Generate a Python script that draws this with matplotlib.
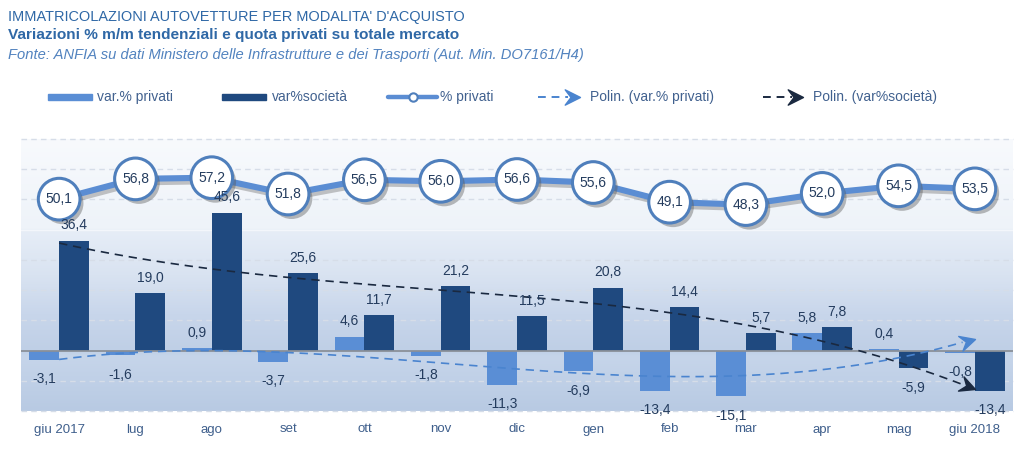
import numpy as np
import matplotlib
matplotlib.use('Agg')
import matplotlib.pyplot as plt
import matplotlib.patheffects as pe
from matplotlib.path import Path
from matplotlib.markers import MarkerStyle
from matplotlib.transforms import Affine2D
from matplotlib.colors import to_rgb
from matplotlib.patches import Rectangle

plt.rcParams['font.family'] = ['Liberation Sans', 'DejaVu Sans']

# dati
mesi = ['giu 2017', 'lug', 'ago', 'set', 'ott', 'nov', 'dic', 'gen', 'feb',
        'mar', 'apr', 'mag', 'giu 2018']
var_privati = [-3.1, -1.6, 0.9, -3.7, 4.6, -1.8, -11.3, -6.9, -13.4, -15.1, 5.8, 0.4, -0.8]
var_societa = [36.4, 19.0, 45.6, 25.6, 11.7, 21.2, 11.5, 20.8, 14.4, 5.7, 7.8, -5.9, -13.4]
quota_privati = [50.1, 56.8, 57.2, 51.8, 56.5, 56.0, 56.6, 55.6, 49.1, 48.3, 52.0, 54.5, 53.5]

C_LIGHT = '#5a8ed5'
C_DARK = '#1f497f'
C_LINE = '#5b8dd3'
C_EDGE = '#4f7fbc'
C_TXT = '#243c5e'
C_TREND_L = '#4a84cf'
C_TREND_D = '#1a2940'

fmt = lambda v: f"{v:.1f}".replace('.', ',')

fig = plt.figure(figsize=(10.23, 4.58), dpi=100)
ax = fig.add_axes([21/1023, 47/458, 992/1023, 272/458])
ax.set_xlim(-0.5, 12.5)
ax.set_ylim(-20, 70)
ax.set_autoscale_on(False)

# sfondo sfumato
stops = [(-20, '#b8cae3'), (-2, '#c6d5ea'), (0, '#bfcfe6'), (12, '#c8d6eb'),
         (25, '#d9e3f1'), (39.5, '#e6edf7'), (40.5, '#eef3f9'), (70, '#f8fafd')]
yy = np.linspace(-20, 70, 500)
sv = [s[0] for s in stops]
cols = np.array([to_rgb(s[1]) for s in stops])
img = np.stack([np.interp(yy, sv, cols[:, k]) for k in range(3)], axis=-1)[:, None, :]
ax.imshow(img, extent=(-0.5, 12.5, -20, 70), origin='lower', aspect='auto', zorder=0)

for g in [-20, -10, 10, 20, 30, 50, 60, 70]:
    ax.axhline(g, color='#d6dde8', lw=1, ls=(0, (4, 3)), zorder=1, clip_on=False)
ax.axhline(40, color='#f3f6fb', lw=1, zorder=1)

x = np.arange(len(mesi))
w = 0.39
ax.bar(x - w/2, var_privati, w, color=C_LIGHT, zorder=3)
ax.bar(x + w/2, var_societa, w, color=C_DARK, zorder=3)
ax.axhline(0, color='#8a9099', lw=1.3, zorder=4)

# etichette barre
for xs, vals in [(x - w/2, var_privati), (x + w/2, var_societa)]:
    for xi, v in zip(xs, vals):
        ax.annotate(fmt(v), (xi, v), xytext=(0, 11 if v >= 0 else -14),
                    textcoords='offset points', ha='center', va='center',
                    fontsize=10, color=C_TXT, zorder=9)

# linee di tendenza polinomiali con freccia
stealth = Path([(0, 0), (-1, 0.5), (-0.62, 0), (-1, -0.5), (0, 0)],
               [Path.MOVETO, Path.LINETO, Path.LINETO, Path.LINETO, Path.CLOSEPOLY])


def arrow(angle):
    return MarkerStyle(stealth, transform=Affine2D().rotate_deg(angle))


xf = np.linspace(0, 12, 300)
for vals, c in [(var_privati, C_TREND_L), (var_societa, C_TREND_D)]:
    p = np.poly1d(np.polyfit(x, vals, 3))
    ax.plot(xf[:-4], p(xf[:-4]), color=c, lw=1.2, ls=(0, (5, 3.5)), zorder=5)
    p1 = ax.transData.transform((11.8, p(11.8)))
    p2 = ax.transData.transform((12, p(12)))
    ang = np.degrees(np.arctan2(p2[1] - p1[1], p2[0] - p1[0]))
    ax.plot([12], [p(12)], marker=arrow(ang), ms=22, color=c, mec=c, zorder=5)

# quota privati
ax.plot(x, quota_privati, color=C_LINE, lw=4.4, zorder=6, solid_capstyle='round',
        path_effects=[pe.SimpleLineShadow(offset=(2, -2.5), shadow_color='#6f6f6f', alpha=0.4),
                      pe.Normal()])
ax.plot(x, quota_privati, 'o', ms=30, mfc='white', mec=C_EDGE, mew=2.2, zorder=7,
        path_effects=[pe.SimplePatchShadow(offset=(2.5, -3), shadow_rgbFace='#555555', alpha=0.4),
                      pe.Normal()])
for xi, q in zip(x, quota_privati):
    ax.text(xi, q, fmt(q), ha='center', va='center', fontsize=10, color=C_TXT, zorder=8)

ax.set_xticks(x, mesi)
ax.set_yticks([])
ax.tick_params(axis='x', length=0, pad=9, labelsize=9.5, labelcolor='#3f5f8c')
for s in ax.spines.values():
    s.set_visible(False)

# titoli e legenda (coordinate in pixel)
lax = fig.add_axes([0, 0, 1, 1])
lax.set_xlim(0, 1023)
lax.set_ylim(458, 0)
lax.axis('off')

r = fig.canvas.get_renderer()


def fit(t, width):
    wd = t.get_window_extent(r).width
    t.set_fontsize(t.get_fontsize() * width / wd)


t1 = lax.text(8, 17, "IMMATRICOLAZIONI AUTOVETTURE PER MODALITA' D'ACQUISTO",
              fontsize=10, color='#2f68a6', va='center')
t2 = lax.text(8, 35, "Variazioni % m/m tendenziali e quota privati su totale mercato",
              fontsize=10, color='#2f68a6', weight='bold', va='center')
t3 = lax.text(8, 55, "Fonte: ANFIA su dati Ministero delle Infrastrutture e dei Trasporti (Aut. Min. DO7161/H4)",
              fontsize=9, color='#5283bf', style='italic', va='center')
fit(t1, 455)
fit(t2, 452)
fit(t3, 577)

ly = 97
lc = '#41618f'
lfs = 10
lax.add_patch(Rectangle((48, ly - 3), 44, 6, color=C_LIGHT))
lax.text(97, ly, 'var.% privati', fontsize=lfs, color=lc, va='center')
lax.add_patch(Rectangle((222, ly - 3), 44, 6, color=C_DARK))
lax.text(272, ly, 'var%società', fontsize=lfs, color=lc, va='center')
lax.plot([388, 437], [ly, ly], color=C_LINE, lw=3.2, solid_capstyle='round')
lax.plot([413], [ly], 'o', ms=6, mfc='white', mec=C_EDGE, mew=1.5)
lax.text(440, ly, '% privati', fontsize=lfs, color=lc, va='center')
lax.plot([538, 568], [ly, ly], color=C_TREND_L, lw=1.4, ls=(0, (4, 3)))
lax.plot([580], [ly], marker=arrow(0), ms=22, color=C_TREND_L)
lax.text(590, ly, 'Polin. (var.% privati)', fontsize=lfs, color=lc, va='center')
lax.plot([763, 792], [ly, ly], color=C_TREND_D, lw=1.4, ls=(0, (4, 3)))
lax.plot([803], [ly], marker=arrow(0), ms=22, color=C_TREND_D)
lax.text(813, ly, 'Polin. (var%società)', fontsize=lfs, color=lc, va='center')

fig.savefig('out.png', dpi=100)
